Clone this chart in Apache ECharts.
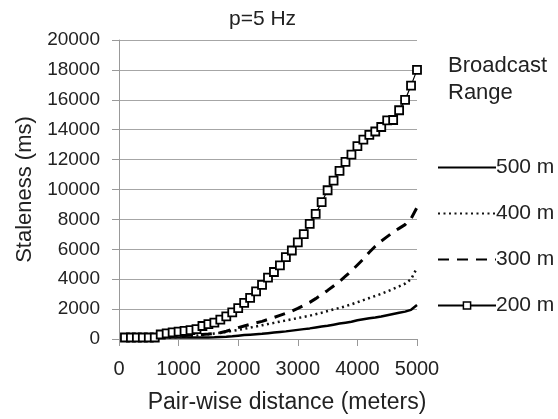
<!DOCTYPE html>
<html>
<head>
<meta charset="utf-8">
<script src="https://cdn.jsdelivr.net/npm/echarts@6/dist/echarts.min.js"></script>
<style>html,body{margin:0;padding:0;background:#fff}#c{width:558px;height:419px}</style>
</head>
<body>
<div id="c"></div>
<script>
var distance = [100,200,300,400,500,600,700,800,900,1000,1100,1200,1300,1400,1500,1600,1700,1800,1900,2000,2100,2200,2300,2400,2500,2600,2700,2800,2900,3000,3100,3200,3300,3400,3500,3600,3700,3800,3900,4000,4100,4200,4300,4400,4500,4600,4700,4800,4900,5000];
var range500 = [100,100,100,100,100,100,100,100,100,100,100,100,100,100,100,110,130,150,180,220,260,290,320,350,390,430,470,510,560,610,660,710,770,830,890,960,1030,1090,1150,1250,1320,1390,1440,1510,1590,1670,1750,1830,1950,2270];
var range400 = [100,100,100,100,100,100,100,100,100,130,160,190,230,270,320,370,420,480,540,610,680,760,840,920,1000,1080,1160,1240,1320,1400,1480,1560,1660,1760,1870,1980,2080,2190,2320,2460,2600,2740,2880,3020,3180,3350,3520,3700,4000,4750];
var range300 = [100,100,100,100,100,100,150,180,200,220,240,260,280,300,330,370,420,520,640,760,870,980,1080,1180,1310,1440,1580,1720,1870,2050,2250,2450,2700,2970,3250,3550,3850,4200,4550,4950,5350,5800,6200,6550,6850,7150,7400,7650,8050,8800];
var range200 = [100,100,100,100,100,100,300,380,440,490,550,600,660,870,990,1100,1300,1520,1780,2060,2420,2750,3180,3620,4100,4480,4920,5470,5920,6460,7020,7700,8370,9150,9950,10600,11250,11850,12330,12900,13330,13650,13880,14180,14620,14650,15300,15990,16950,18000];
var seriesNames = ['500 m','400 m','300 m','200 m'];
var yTicks = [0,2000,4000,6000,8000,10000,12000,14000,16000,18000,20000];
var xTicks = [0,1000,2000,3000,4000,5000];

function pairs(v){ return distance.map(function(d,i){ return [d, v[i]]; }); }
var FONT = 'Liberation Sans, Arial, sans-serif';
var TXT = '#222';
var hideSym = {color: 'rgba(0,0,0,0)', borderWidth: 0, borderColor: 'rgba(0,0,0,0)'};
var chart = echarts.init(document.getElementById('c'));
chart.setOption({
  animation: false,
  backgroundColor: '#fff',
  title: [
    {text: 'p=5 Hz', left: 224, top: 4,
     textStyle: {fontFamily: FONT, fontSize: 21, fontWeight: 'normal', color: TXT}},
    {text: 'Broadcast\nRange', left: 443, top: 47,
     textStyle: {fontFamily: FONT, fontSize: 22, fontWeight: 'normal', color: TXT, lineHeight: 27}}
  ],
  legend: {
    orient: 'vertical', left: 432, top: 152,
    itemWidth: 58, itemHeight: 9, itemGap: 25,
    data: [
      {name: seriesNames[0], itemStyle: hideSym},
      {name: seriesNames[1], itemStyle: hideSym},
      {name: seriesNames[2], itemStyle: hideSym},
      {name: seriesNames[3], itemStyle: {color: '#fff', borderColor: '#000', borderWidth: 1.5}}
    ],
    textStyle: {fontFamily: FONT, fontSize: 21, color: TXT, padding: [0,0,0,-5]}
  },
  grid: {left: 119, right: 141, top: 40, bottom: 79, containLabel: false},
  xAxis: {
    type: 'value', min: xTicks[0], max: xTicks[xTicks.length-1], interval: 1000,
    name: 'Pair-wise distance (meters)', nameLocation: 'middle', nameGap: 52,
    nameTextStyle: {fontFamily: FONT, fontSize: 23, color: TXT, padding: [0,0,0,38]},
    axisLine: {lineStyle: {color: '#999', width: 1}},
    axisTick: {show: true, length: 7, lineStyle: {color: '#999'}},
    axisLabel: {fontFamily: FONT, fontSize: 20, color: TXT, margin: 20, formatter: function(v){ return String(v); }},
    splitLine: {show: false}
  },
  yAxis: {
    type: 'value', min: yTicks[0], max: yTicks[yTicks.length-1], interval: 2000,
    name: 'Staleness (ms)', nameLocation: 'middle', nameGap: 83, nameRotate: 90,
    nameTextStyle: {fontFamily: FONT, fontSize: 22, color: TXT},
    axisLine: {show: true, lineStyle: {color: '#999', width: 1}},
    axisTick: {show: true, length: 7, lineStyle: {color: '#999'}},
    axisLabel: {fontFamily: FONT, fontSize: 19, color: TXT, margin: 19, formatter: function(v){ return String(v); }},
    splitLine: {show: true, lineStyle: {color: '#a6a6a6', width: 1}}
  },
  series: [
    {name: seriesNames[0], type: 'line', data: pairs(range500), symbol: 'none', z: 3,
     lineStyle: {color: '#000', width: 2.5, type: 'solid'}, itemStyle: {color: '#000'}},
    {name: seriesNames[1], type: 'line', data: pairs(range400), symbol: 'none', z: 3,
     lineStyle: {color: '#111', width: 2.5, type: [2,3.5]}, itemStyle: {color: '#111'}},
    {name: seriesNames[2], type: 'line', data: pairs(range300), symbol: 'none', z: 3,
     lineStyle: {color: '#000', width: 3, type: [11,8]}, itemStyle: {color: '#000'}},
    {name: seriesNames[3], type: 'line', data: pairs(range200), symbol: 'rect', symbolSize: 8, z: 4,
     lineStyle: {color: '#000', width: 1.2}, itemStyle: {color: '#fff', borderColor: '#000', borderWidth: 1.8}}
  ]
});
</script>
</body>
</html>
